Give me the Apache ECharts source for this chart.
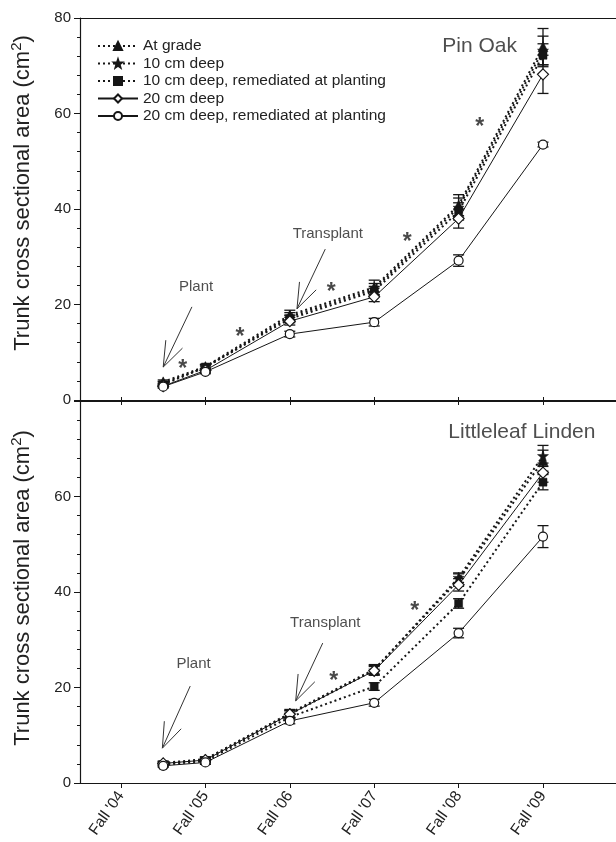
<!DOCTYPE html>
<html>
<head>
<meta charset="utf-8">
<script src="https://cdn.jsdelivr.net/npm/echarts@6/dist/echarts.min.js"></script>
<style>
html,body{margin:0;padding:0;background:#fff;}
#c{width:616px;height:842px;}
</style>
</head>
<body>
<div id="c"></div>
<script>
// ---------- data ----------
const tickLabels = ["Fall '04", "Fall '05", "Fall '06", "Fall '07", "Fall '08", "Fall '09"];
const tickValues = [0, 1, 2, 3, 4, 5];
const xPos = [0.5, 1, 2, 3, 4, 5]; // plant (spring '05), Fall '05 ... Fall '09
const seriesNames = ["At grade", "10 cm deep", "10 cm deep, remediated at planting", "20 cm deep", "20 cm deep, remediated at planting"];

// Pin Oak
const oakAtGrade = [3.8, 7.0, 17.8, 23.6, 40.8, 74.0];
const oak10 = [3.5, 6.8, 17.4, 23.2, 40.3, 73.2];
const oak10Rem = [3.2, 6.9, 17.0, 22.8, 39.5, 72.2];
const oak20 = [2.9, 6.2, 16.5, 21.6, 38.0, 68.2];
const oak20Rem = [2.8, 5.9, 13.8, 16.3, 29.2, 53.5];
const oakAtGradeErr = [0.4, 0.5, 1.0, 1.5, 2.2, 3.8];
const oak10Err = [0.4, 0.5, 0.9, 1.2, 2.0, 3.0];
const oak10RemErr = [0.3, 0.5, 0.8, 1.0, 1.8, 2.4];
const oak20Err = [0.3, 0.4, 0.8, 1.0, 2.0, 4.0];
const oak20RemErr = [0.3, 0.4, 0.6, 0.8, 1.2, 0.5];

// Littleleaf Linden
const linAtGrade = [4.2, 5.0, 14.6, 23.8, 42.5, 67.5];
const lin10 = [4.0, 4.9, 14.4, 23.6, 43.0, 68.5];
const lin10Rem = [3.8, 4.6, 13.8, 20.2, 37.6, 63.0];
const lin20 = [4.1, 4.8, 14.4, 23.5, 41.5, 65.0];
const lin20Rem = [3.6, 4.3, 13.0, 16.8, 31.4, 51.6];
const linAtGradeErr = [0.4, 0.5, 0.8, 1.0, 1.3, 2.2];
const lin10Err = [0.4, 0.5, 0.8, 1.0, 1.0, 2.2];
const lin10RemErr = [0.3, 0.4, 0.7, 0.8, 1.0, 1.6];
const lin20Err = [0.4, 0.5, 0.7, 0.9, 1.3, 2.0];
const lin20RemErr = [0.3, 0.4, 0.6, 0.7, 1.0, 2.3];

// annotations (data coordinates): [tailX, tailY, tipX, tipY]
const oakArrows = [[0.84, 19.5, 0.5, 6.9], [2.42, 31.6, 2.085, 19.1]];
const linArrows = [[0.82, 20.3, 0.49, 7.3], [2.39, 29.3, 2.07, 17.2]];
const oakNotes = [{name: "Plant", value: [0.89, 23.7]}, {name: "Transplant", value: [2.45, 34.8]}];
const linNotes = [{name: "Plant", value: [0.86, 24.9]}, {name: "Transplant", value: [2.42, 33.5]}];
const oakStars = [[0.73, 7.5], [1.41, 14.0], [2.49, 23.5], [3.39, 34.1], [4.25, 58.0]];
const linStars = [[2.52, 22.2], [3.48, 36.9]];
const oakTitle = [{name: "Pin Oak", value: [4.25, 74.0]}];
const linTitle = [{name: "Littleleaf Linden", value: [4.75, 73.5]}];

// ---------- styles ----------
const INK = '#161616';
const FONT = 'Liberation Sans, Arial, sans-serif';
const starPath = 'path://M0,-10 L2.35,-3.24 L9.51,-3.09 L3.8,1.24 L5.88,8.09 L0,4 L-5.88,8.09 L-3.8,1.24 L-9.51,-3.09 L-2.35,-3.24 Z';
const styles = [
  {symbol: 'triangle', size: 10, fill: INK, dotted: true},
  {symbol: starPath, size: 11, fill: INK, dotted: true},
  {symbol: 'rect', size: 8, fill: INK, dotted: true},
  {symbol: 'diamond', size: 11, fill: '#fff', dotted: false},
  {symbol: 'circle', size: 9, fill: '#fff', dotted: false}
];

const chart = echarts.init(document.getElementById('c'), null, {renderer: 'canvas'});

function pts(vals) { return xPos.map((x, i) => [x, vals[i]]); }
function errPts(vals, errs) { return xPos.map((x, i) => [x, vals[i] - errs[i], vals[i] + errs[i]]); }

function errRender(params, api) {
  const x = api.value(0);
  const p1 = api.coord([x, api.value(1)]);
  const p2 = api.coord([x, api.value(2)]);
  const w = 5.5;
  const st = {stroke: INK, lineWidth: 1.3};
  return {type: 'group', children: [
    {type: 'line', shape: {x1: p1[0], y1: p1[1], x2: p2[0], y2: p2[1]}, style: st},
    {type: 'line', shape: {x1: p1[0] - w, y1: p1[1], x2: p1[0] + w, y2: p1[1]}, style: st},
    {type: 'line', shape: {x1: p2[0] - w, y1: p2[1], x2: p2[0] + w, y2: p2[1]}, style: st}
  ]};
}

function arrowRender(params, api) {
  const t = api.coord([api.value(0), api.value(1)]);
  const h = api.coord([api.value(2), api.value(3)]);
  const ang = Math.atan2(t[1] - h[1], t[0] - h[0]);
  const L = 27, a = 20 * Math.PI / 180;
  const st = {stroke: '#333', lineWidth: 1};
  const e1 = [h[0] + L * Math.cos(ang + a), h[1] + L * Math.sin(ang + a)];
  const e2 = [h[0] + L * Math.cos(ang - a), h[1] + L * Math.sin(ang - a)];
  return {type: 'group', children: [
    {type: 'line', shape: {x1: t[0], y1: t[1], x2: h[0], y2: h[1]}, style: st},
    {type: 'line', shape: {x1: h[0], y1: h[1], x2: e1[0], y2: e1[1]}, style: st},
    {type: 'line', shape: {x1: h[0], y1: h[1], x2: e2[0], y2: e2[1]}, style: st}
  ]};
}

function panelSeries(idx, sets, errs, arrows, notes, stars, title) {
  const out = [];
  sets.forEach((vals, k) => {
    out.push({
      type: 'custom', xAxisIndex: idx, yAxisIndex: idx, z: 2, silent: true,
      renderItem: errRender, data: errPts(vals, errs[k])
    });
  });
  sets.forEach((vals, k) => {
    const s = styles[k];
    out.push({
      name: seriesNames[k], type: 'line', xAxisIndex: idx, yAxisIndex: idx, z: 3 + k,
      data: pts(vals), symbol: s.symbol, symbolSize: s.size, showSymbol: true,
      lineStyle: s.dotted ? {color: INK, width: 2, type: [2, 3]} : {color: INK, width: 1},
      itemStyle: {color: s.fill, borderColor: INK, borderWidth: s.fill === '#fff' ? 1.2 : 0.5},
      animation: false
    });
  });
  out.push({type: 'custom', xAxisIndex: idx, yAxisIndex: idx, renderItem: arrowRender, data: arrows, silent: true, z: 1});
  out.push({
    type: 'scatter', xAxisIndex: idx, yAxisIndex: idx, symbolSize: 0, data: notes, silent: true,
    label: {show: true, position: 'inside', formatter: p => p.name, color: '#222', fontFamily: FONT, fontSize: 15}
  });
  out.push({
    type: 'scatter', xAxisIndex: idx, yAxisIndex: idx, symbolSize: 0, data: title, silent: true,
    label: {show: true, position: 'inside', formatter: p => p.name, color: '#222', fontFamily: FONT, fontSize: 21}
  });
  out.push({
    type: 'scatter', xAxisIndex: idx, yAxisIndex: idx, symbolSize: 0, data: stars, silent: true,
    label: {show: true, position: 'inside', formatter: '*', color: '#1a1a1a', fontFamily: FONT, fontSize: 23, fontWeight: 'bold', offset: [0, 5]}
  });
  return out;
}

const X_MIN = -0.486, X_MAX = 5.865;
function xAxisBase(gridIndex, position) {
  return {
    type: 'value', gridIndex, position, min: X_MIN, max: X_MAX,
    axisLine: {show: true, onZero: false, lineStyle: {color: INK, width: 1.2}},
    splitLine: {show: false},
    axisTick: {show: false},
    axisLabel: {show: false}
  };
}

const ticks = {show: true, customValues: tickValues, length: 5, lineStyle: {color: INK, width: 1}};

const xAxes = [
  Object.assign(xAxisBase(0, 'bottom'), {axisTick: ticks}),
  Object.assign(xAxisBase(1, 'bottom'), {
    axisTick: ticks,
    axisLabel: {show: true, customValues: tickValues, formatter: v => tickLabels[Math.round(v)] || '',
      rotate: 55, margin: 10, color: '#222', fontFamily: FONT, fontSize: 15.5}
  }),
  xAxisBase(0, 'top'),
  Object.assign(xAxisBase(1, 'top'), {axisTick: Object.assign({}, ticks, {length: 4})})
];

function yAxisBase(gridIndex, showMax, pad) {
  return {
    type: 'value', gridIndex, min: 0, max: 80, interval: 20, position: 'left',
    name: '{a|Trunk cross sectional area (cm}{s|2}{a|)}',
    nameLocation: 'middle', nameGap: 43, nameRotate: 90,
    nameTextStyle: {padding: pad, rich: {
      a: {fontFamily: FONT, fontSize: 22, color: '#222', lineHeight: 28},
      s: {fontFamily: FONT, fontSize: 15, color: '#222', lineHeight: 28, verticalAlign: 'top'}
    }},
    axisLine: {show: true, onZero: false, lineStyle: {color: INK, width: 1.2}},
    axisTick: {show: true, length: 6, lineStyle: {color: INK}},
    minorTick: {show: true, splitNumber: 5, length: 3, lineStyle: {color: INK}},
    splitLine: {show: false},
    axisLabel: {color: '#222', fontFamily: FONT, fontSize: 15, margin: 9, showMaxLabel: showMax}
  };
}

const option = {
  backgroundColor: '#fff',
  animation: false,
  grid: [
    {left: 80, right: 0, top: 18, height: 382},
    {left: 80, right: 0, top: 401, height: 382}
  ],
  xAxis: xAxes,
  yAxis: [yAxisBase(0, true, [0, 0, 0, 32]), yAxisBase(1, false, [0, 0, 0, 8])],
  legend: {
    data: seriesNames, orient: 'vertical', left: 92, top: 33,
    itemWidth: 40, itemHeight: 10, itemGap: 1.5,
    textStyle: {color: '#222', fontFamily: FONT, fontSize: 15.5},
    selectedMode: false
  },
  series: [].concat(
    panelSeries(0, [oakAtGrade, oak10, oak10Rem, oak20, oak20Rem],
      [oakAtGradeErr, oak10Err, oak10RemErr, oak20Err, oak20RemErr], oakArrows, oakNotes, oakStars, oakTitle),
    panelSeries(1, [linAtGrade, lin10, lin10Rem, lin20, lin20Rem],
      [linAtGradeErr, lin10Err, lin10RemErr, lin20Err, lin20RemErr], linArrows, linNotes, linStars, linTitle)
  )
};
chart.setOption(option);
</script>
</body>
</html>
